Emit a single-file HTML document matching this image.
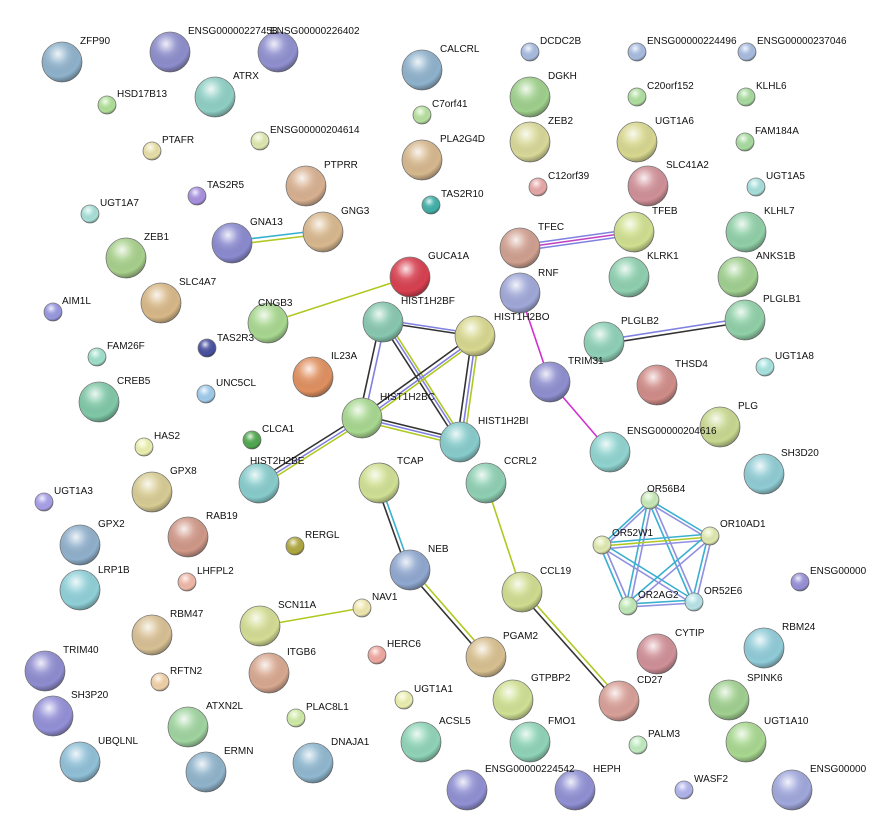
<!DOCTYPE html>
<html><head><meta charset="utf-8"><style>
html,body{margin:0;padding:0;background:#fff;}
svg{display:block;}
text{font-family:"Liberation Sans",sans-serif;font-size:10px;fill:#111;}
.s{stroke:#777;stroke-width:0.8;}
</style></head><body>
<svg width="871" height="835" viewBox="0 0 871 835" xmlns="http://www.w3.org/2000/svg">
<defs>
<radialGradient id="g" cx="40%" cy="30%" r="70%">
<stop offset="0" stop-color="#fff" stop-opacity="0.85"/>
<stop offset="0.35" stop-color="#fff" stop-opacity="0.15"/>
<stop offset="0.8" stop-color="#000" stop-opacity="0"/>
<stop offset="1" stop-color="#000" stop-opacity="0.3"/>
</radialGradient>
</defs>
<g fill="none" stroke-width="1.6">
<line x1="232" y1="241" x2="323" y2="230" stroke="#3ab0d0"/><line x1="232" y1="245" x2="323" y2="234" stroke="#b0c820"/>
<line x1="268" y1="323" x2="410" y2="277" stroke="#b0c820"/>
<line x1="520" y1="245" x2="634" y2="229" stroke="#8080e0"/><line x1="520" y1="248" x2="634" y2="232" stroke="#c040c0"/><line x1="520" y1="251" x2="634" y2="235" stroke="#8080e0"/>
<line x1="520" y1="293" x2="550" y2="382" stroke="#d030d0"/>
<line x1="550" y1="382" x2="610" y2="452" stroke="#d030d0"/>
<line x1="604" y1="340" x2="745" y2="318" stroke="#8080e0"/><line x1="604" y1="344" x2="745" y2="322" stroke="#333"/>
<g>
<line x1="381" y1="322" x2="473" y2="336" stroke="#333"/><line x1="385" y1="320" x2="477" y2="334" stroke="#8080e0"/>
<line x1="380" y1="322" x2="359" y2="418" stroke="#333"/><line x1="385" y1="323" x2="364" y2="419" stroke="#8080e0"/>
<line x1="381" y1="322" x2="458" y2="442" stroke="#333"/><line x1="385" y1="322" x2="462" y2="442" stroke="#8080e0"/><line x1="388" y1="322" x2="465" y2="442" stroke="#b0c820"/>
<line x1="472" y1="336" x2="359" y2="418" stroke="#333"/><line x1="476" y1="338" x2="363" y2="420" stroke="#8080e0"/><line x1="479" y1="339" x2="366" y2="421" stroke="#b0c820"/>
<line x1="472" y1="336" x2="457" y2="442" stroke="#333"/><line x1="476" y1="336" x2="461" y2="442" stroke="#8080e0"/><line x1="479" y1="337" x2="464" y2="443" stroke="#b0c820"/>
<line x1="362" y1="415" x2="460" y2="439" stroke="#333"/><line x1="362" y1="418" x2="460" y2="442" stroke="#8080e0"/><line x1="362" y1="421" x2="460" y2="445" stroke="#b0c820"/>
<line x1="360" y1="416" x2="257" y2="481" stroke="#333"/><line x1="362" y1="419" x2="259" y2="484" stroke="#8080e0"/><line x1="364" y1="421" x2="261" y2="486" stroke="#b0c820"/>
</g>
<line x1="376" y1="483" x2="407" y2="570" stroke="#333"/><line x1="380" y1="483" x2="411" y2="570" stroke="#3ab0d0"/>
<line x1="408" y1="571" x2="484" y2="658" stroke="#333"/><line x1="412" y1="569" x2="488" y2="656" stroke="#b0c820"/>
<line x1="260" y1="626" x2="362" y2="608" stroke="#b0c820"/>
<line x1="486" y1="483" x2="522" y2="592" stroke="#b0c820"/>
<line x1="520" y1="593" x2="617" y2="702" stroke="#333"/><line x1="524" y1="591" x2="621" y2="700" stroke="#b0c820"/>
<g>
<line x1="650" y1="500" x2="602" y2="545" stroke="#3ab0d0"/><line x1="652" y1="502" x2="604" y2="547" stroke="#9090e0"/>
<line x1="650" y1="500" x2="710" y2="536" stroke="#3ab0d0"/><line x1="649" y1="503" x2="709" y2="539" stroke="#9090e0"/>
<line x1="648" y1="500" x2="626" y2="606" stroke="#3ab0d0"/><line x1="652" y1="500" x2="630" y2="606" stroke="#9090e0"/>
<line x1="648" y1="500" x2="692" y2="602" stroke="#3ab0d0"/><line x1="652" y1="500" x2="696" y2="602" stroke="#9090e0"/>
<line x1="602" y1="543" x2="710" y2="534" stroke="#3ab0d0"/><line x1="602" y1="546" x2="710" y2="537" stroke="#b0c820"/><line x1="602" y1="549" x2="710" y2="540" stroke="#9090e0"/>
<line x1="600" y1="546" x2="626" y2="607" stroke="#3ab0d0"/><line x1="604" y1="545" x2="630" y2="606" stroke="#9090e0"/>
<line x1="602" y1="543" x2="694" y2="600" stroke="#3ab0d0"/><line x1="601" y1="547" x2="693" y2="604" stroke="#9090e0"/>
<line x1="708" y1="534" x2="626" y2="604" stroke="#3ab0d0"/><line x1="711" y1="538" x2="629" y2="608" stroke="#9090e0"/>
<line x1="708" y1="536" x2="692" y2="602" stroke="#3ab0d0"/><line x1="712" y1="536" x2="696" y2="602" stroke="#9090e0"/>
<line x1="628" y1="604" x2="694" y2="600" stroke="#3ab0d0"/><line x1="628" y1="607" x2="694" y2="603" stroke="#9090e0"/>
</g>
</g>
<g>
<g class="s">
<circle cx="62" cy="62" r="20" fill="#8fb2cc"/><circle cx="170" cy="52" r="20" fill="#8d8dcc"/><circle cx="278" cy="52" r="20" fill="#9090d0"/><circle cx="422" cy="70" r="20" fill="#8fb2cc"/>
<circle cx="215" cy="97" r="20" fill="#8fcfc4"/><circle cx="530" cy="97" r="20" fill="#9fd08c"/>
<circle cx="422" cy="160" r="20" fill="#d6b88e"/><circle cx="530" cy="142" r="20" fill="#d8d898"/><circle cx="637" cy="142" r="20" fill="#d8d890"/>
<circle cx="306" cy="186" r="20" fill="#d8b090"/><circle cx="648" cy="186" r="20" fill="#d09098"/>
<circle cx="232" cy="243" r="20" fill="#8a8ad0"/><circle cx="323" cy="232" r="20" fill="#d8b88e"/><circle cx="520" cy="248" r="20" fill="#d0a090"/><circle cx="634" cy="232" r="20" fill="#d0e090"/><circle cx="746" cy="232" r="20" fill="#90d0a8"/>
<circle cx="126" cy="258" r="20" fill="#a8d08c"/><circle cx="410" cy="277" r="20" fill="#d84050"/><circle cx="629" cy="277" r="20" fill="#8fd0b0"/><circle cx="738" cy="277" r="20" fill="#a0d090"/>
<circle cx="161" cy="303" r="20" fill="#d8b888"/><circle cx="268" cy="323" r="20" fill="#a8d890"/><circle cx="520" cy="293" r="20" fill="#a0a8d8"/>
<circle cx="383" cy="322" r="20" fill="#88c8b0"/><circle cx="475" cy="336" r="20" fill="#d8d890"/><circle cx="745" cy="320" r="20" fill="#90d0a8"/><circle cx="604" cy="342" r="20" fill="#8fd0b8"/>
<circle cx="313" cy="377" r="20" fill="#e09060"/><circle cx="550" cy="382" r="20" fill="#8f8fd0"/><circle cx="657" cy="385" r="20" fill="#d08c88"/><circle cx="99" cy="402" r="20" fill="#80c8a8"/>
<circle cx="362" cy="418" r="20" fill="#a8d890"/><circle cx="460" cy="442" r="20" fill="#88cccc"/><circle cx="720" cy="427" r="20" fill="#c8d890"/><circle cx="610" cy="452" r="20" fill="#90d4d0"/>
<circle cx="764" cy="474" r="20" fill="#90ccd4"/><circle cx="259" cy="483" r="20" fill="#88cccc"/><circle cx="379" cy="483" r="20" fill="#d0e094"/><circle cx="486" cy="483" r="20" fill="#8fd0b4"/><circle cx="152" cy="492" r="20" fill="#d8cc94"/>
<circle cx="188" cy="537" r="20" fill="#d09888"/><circle cx="80" cy="545" r="20" fill="#90b0cc"/><circle cx="410" cy="570" r="20" fill="#90a8d0"/><circle cx="522" cy="592" r="20" fill="#d0dc90"/><circle cx="80" cy="590" r="20" fill="#90d0d8"/>
<circle cx="152" cy="635" r="20" fill="#d8c094"/><circle cx="260" cy="626" r="20" fill="#d4dc94"/><circle cx="764" cy="648" r="20" fill="#90ccd8"/><circle cx="657" cy="654" r="20" fill="#d09098"/><circle cx="486" cy="657" r="20" fill="#d8c090"/>
<circle cx="45" cy="671" r="20" fill="#8f8cd0"/><circle cx="269" cy="673" r="20" fill="#d8a890"/><circle cx="619" cy="701" r="20" fill="#d8a098"/><circle cx="513" cy="700" r="20" fill="#d0e094"/><circle cx="729" cy="700" r="20" fill="#a0d090"/>
<circle cx="53" cy="716" r="20" fill="#9490d8"/><circle cx="188" cy="727" r="20" fill="#a0d4a0"/><circle cx="421" cy="742" r="20" fill="#90d4b8"/><circle cx="530" cy="742" r="20" fill="#8fd4b8"/><circle cx="746" cy="742" r="20" fill="#a8d890"/>
<circle cx="80" cy="762" r="20" fill="#90c0d8"/><circle cx="206" cy="772" r="20" fill="#90b4cc"/><circle cx="313" cy="763" r="20" fill="#90b8d0"/><circle cx="467" cy="790" r="20" fill="#9090d4"/><circle cx="575" cy="790" r="20" fill="#9090d4"/><circle cx="792" cy="790" r="20" fill="#a0a8dc"/>
<circle cx="530" cy="52" r="9" fill="#a8bce0"/><circle cx="637" cy="52" r="9" fill="#a8bce0"/><circle cx="747" cy="52" r="9" fill="#a8bce0"/>
<circle cx="107" cy="105" r="9" fill="#b0e098"/><circle cx="422" cy="115" r="9" fill="#b8e0a0"/><circle cx="637" cy="97" r="9" fill="#b0e0a0"/><circle cx="746" cy="97" r="9" fill="#a8dca0"/>
<circle cx="152" cy="151" r="9" fill="#e8e0a8"/><circle cx="260" cy="141" r="9" fill="#e0e8b0"/><circle cx="745" cy="142" r="9" fill="#a8dca0"/>
<circle cx="197" cy="196" r="9" fill="#a890e0"/><circle cx="538" cy="187" r="9" fill="#e8a8a8"/><circle cx="756" cy="187" r="9" fill="#a8e0dc"/><circle cx="90" cy="214" r="9" fill="#a8e0d8"/><circle cx="431" cy="205" r="9" fill="#40b0a8"/>
<circle cx="53" cy="312" r="9" fill="#9898e0"/><circle cx="97" cy="357" r="9" fill="#a0e0cc"/><circle cx="207" cy="348" r="9" fill="#4850a0"/><circle cx="765" cy="367" r="9" fill="#a8e4e0"/>
<circle cx="206" cy="394" r="9" fill="#a0ccec"/><circle cx="252" cy="440" r="9" fill="#50a850"/><circle cx="144" cy="447" r="9" fill="#ecf0b0"/>
<circle cx="650" cy="500" r="9" fill="#c8eab8"/><circle cx="44" cy="502" r="9" fill="#a8a0e8"/><circle cx="602" cy="545" r="9" fill="#e0eab0"/><circle cx="710" cy="536" r="9" fill="#e0eab0"/>
<circle cx="295" cy="546" r="9" fill="#b0a840"/><circle cx="628" cy="606" r="9" fill="#c0eab8"/><circle cx="694" cy="602" r="9" fill="#b8e4e8"/><circle cx="187" cy="582" r="9" fill="#f0b8a8"/><circle cx="362" cy="608" r="9" fill="#f0e8b0"/><circle cx="800" cy="582" r="9" fill="#9890d8"/>
<circle cx="377" cy="655" r="9" fill="#f0a8a0"/><circle cx="160" cy="682" r="9" fill="#f0d0a8"/><circle cx="404" cy="700" r="9" fill="#ecf0b0"/><circle cx="296" cy="718" r="9" fill="#d0eca8"/><circle cx="638" cy="745" r="9" fill="#c0ecc0"/><circle cx="684" cy="790" r="9" fill="#b0b4ec"/>
</g>
<g fill="url(#g)">
<circle cx="62" cy="62" r="20"/><circle cx="170" cy="52" r="20"/><circle cx="278" cy="52" r="20"/><circle cx="422" cy="70" r="20"/><circle cx="215" cy="97" r="20"/><circle cx="530" cy="97" r="20"/><circle cx="422" cy="160" r="20"/><circle cx="530" cy="142" r="20"/><circle cx="637" cy="142" r="20"/><circle cx="306" cy="186" r="20"/><circle cx="648" cy="186" r="20"/><circle cx="232" cy="243" r="20"/><circle cx="323" cy="232" r="20"/><circle cx="520" cy="248" r="20"/><circle cx="634" cy="232" r="20"/><circle cx="746" cy="232" r="20"/><circle cx="126" cy="258" r="20"/><circle cx="410" cy="277" r="20"/><circle cx="629" cy="277" r="20"/><circle cx="738" cy="277" r="20"/><circle cx="161" cy="303" r="20"/><circle cx="268" cy="323" r="20"/><circle cx="520" cy="293" r="20"/><circle cx="383" cy="322" r="20"/><circle cx="475" cy="336" r="20"/><circle cx="745" cy="320" r="20"/><circle cx="604" cy="342" r="20"/><circle cx="313" cy="377" r="20"/><circle cx="550" cy="382" r="20"/><circle cx="657" cy="385" r="20"/><circle cx="99" cy="402" r="20"/><circle cx="362" cy="418" r="20"/><circle cx="460" cy="442" r="20"/><circle cx="720" cy="427" r="20"/><circle cx="610" cy="452" r="20"/><circle cx="764" cy="474" r="20"/><circle cx="259" cy="483" r="20"/><circle cx="379" cy="483" r="20"/><circle cx="486" cy="483" r="20"/><circle cx="152" cy="492" r="20"/><circle cx="188" cy="537" r="20"/><circle cx="80" cy="545" r="20"/><circle cx="410" cy="570" r="20"/><circle cx="522" cy="592" r="20"/><circle cx="80" cy="590" r="20"/><circle cx="152" cy="635" r="20"/><circle cx="260" cy="626" r="20"/><circle cx="764" cy="648" r="20"/><circle cx="657" cy="654" r="20"/><circle cx="486" cy="657" r="20"/><circle cx="45" cy="671" r="20"/><circle cx="269" cy="673" r="20"/><circle cx="619" cy="701" r="20"/><circle cx="513" cy="700" r="20"/><circle cx="729" cy="700" r="20"/><circle cx="53" cy="716" r="20"/><circle cx="188" cy="727" r="20"/><circle cx="421" cy="742" r="20"/><circle cx="530" cy="742" r="20"/><circle cx="746" cy="742" r="20"/><circle cx="80" cy="762" r="20"/><circle cx="206" cy="772" r="20"/><circle cx="313" cy="763" r="20"/><circle cx="467" cy="790" r="20"/><circle cx="575" cy="790" r="20"/><circle cx="792" cy="790" r="20"/>
<circle cx="530" cy="52" r="9"/><circle cx="637" cy="52" r="9"/><circle cx="747" cy="52" r="9"/><circle cx="107" cy="105" r="9"/><circle cx="422" cy="115" r="9"/><circle cx="637" cy="97" r="9"/><circle cx="746" cy="97" r="9"/><circle cx="152" cy="151" r="9"/><circle cx="260" cy="141" r="9"/><circle cx="745" cy="142" r="9"/><circle cx="197" cy="196" r="9"/><circle cx="538" cy="187" r="9"/><circle cx="756" cy="187" r="9"/><circle cx="90" cy="214" r="9"/><circle cx="431" cy="205" r="9"/><circle cx="53" cy="312" r="9"/><circle cx="97" cy="357" r="9"/><circle cx="207" cy="348" r="9"/><circle cx="765" cy="367" r="9"/><circle cx="206" cy="394" r="9"/><circle cx="252" cy="440" r="9"/><circle cx="144" cy="447" r="9"/><circle cx="650" cy="500" r="9"/><circle cx="44" cy="502" r="9"/><circle cx="602" cy="545" r="9"/><circle cx="710" cy="536" r="9"/><circle cx="295" cy="546" r="9"/><circle cx="628" cy="606" r="9"/><circle cx="694" cy="602" r="9"/><circle cx="187" cy="582" r="9"/><circle cx="362" cy="608" r="9"/><circle cx="800" cy="582" r="9"/><circle cx="377" cy="655" r="9"/><circle cx="160" cy="682" r="9"/><circle cx="404" cy="700" r="9"/><circle cx="296" cy="718" r="9"/><circle cx="638" cy="745" r="9"/><circle cx="684" cy="790" r="9"/>
</g>
</g>
<g>
<text x="80" y="44">ZFP90</text><text x="188" y="34">ENSG00000227458</text><text x="270" y="34">ENSG00000226402</text><text x="440" y="52">CALCRL</text>
<text x="540" y="44">DCDC2B</text><text x="647" y="44">ENSG00000224496</text><text x="757" y="44">ENSG00000237046</text>
<text x="233" y="79">ATRX</text><text x="117" y="97">HSD17B13</text><text x="432" y="107">C7orf41</text><text x="548" y="79">DGKH</text><text x="647" y="89">C20orf152</text><text x="756" y="89">KLHL6</text>
<text x="162" y="143">PTAFR</text><text x="270" y="133">ENSG00000204614</text><text x="440" y="142">PLA2G4D</text><text x="548" y="124">ZEB2</text><text x="655" y="124">UGT1A6</text><text x="755" y="134">FAM184A</text>
<text x="207" y="188">TAS2R5</text><text x="324" y="168">PTPRR</text><text x="548" y="179">C12orf39</text><text x="666" y="168">SLC41A2</text><text x="766" y="179">UGT1A5</text>
<text x="100" y="206">UGT1A7</text><text x="250" y="225">GNA13</text><text x="341" y="214">GNG3</text><text x="441" y="197">TAS2R10</text><text x="538" y="230">TFEC</text><text x="652" y="214">TFEB</text><text x="764" y="214">KLHL7</text>
<text x="144" y="240">ZEB1</text><text x="428" y="259">GUCA1A</text><text x="647" y="259">KLRK1</text><text x="756" y="259">ANKS1B</text>
<text x="179" y="285">SLC4A7</text><text x="258" y="306">CNGB3</text><text x="538" y="276">RNF</text><text x="494" y="320">HIST1H2BO</text>
<text x="62" y="304">AIM1L</text><text x="401" y="304">HIST1H2BF</text><text x="763" y="302">PLGLB1</text><text x="621" y="324">PLGLB2</text>
<text x="107" y="349">FAM26F</text><text x="217" y="341">TAS2R3</text><text x="331" y="359">IL23A</text><text x="568" y="364">TRIM31</text><text x="675" y="367">THSD4</text><text x="775" y="359">UGT1A8</text>
<text x="216" y="386">UNC5CL</text><text x="117" y="384">CREB5</text><text x="380" y="400">HIST1H2BC</text><text x="478" y="424">HIST1H2BI</text><text x="738" y="409">PLG</text><text x="627" y="434">ENSG00000204616</text>
<text x="262" y="432">CLCA1</text><text x="154" y="439">HAS2</text><text x="781" y="456">SH3D20</text><text x="250" y="464">HIST2H2BE</text><text x="397" y="464">TCAP</text><text x="504" y="464">CCRL2</text><text x="170" y="474">GPX8</text>
<text x="647" y="492">OR56B4</text><text x="54" y="494">UGT1A3</text><text x="612" y="536">OR52W1</text><text x="720" y="527">OR10AD1</text>
<text x="206" y="519">RAB19</text><text x="98" y="527">GPX2</text><text x="305" y="538">RERGL</text><text x="428" y="552">NEB</text>
<text x="638" y="598">OR2AG2</text><text x="704" y="594">OR52E6</text><text x="540" y="574">CCL19</text><text x="98" y="573">LRP1B</text><text x="197" y="574">LHFPL2</text><text x="372" y="600">NAV1</text><text x="810" y="574">ENSG00000</text>
<text x="170" y="617">RBM47</text><text x="278" y="608">SCN11A</text><text x="387" y="647">HERC6</text><text x="782" y="630">RBM24</text><text x="675" y="636">CYTIP</text><text x="503" y="639">PGAM2</text>
<text x="63" y="653">TRIM40</text><text x="287" y="655">ITGB6</text><text x="170" y="674">RFTN2</text><text x="637" y="683">CD27</text><text x="531" y="681">GTPBP2</text><text x="747" y="681">SPINK6</text><text x="414" y="692">UGT1A1</text>
<text x="71" y="698">SH3P20</text><text x="206" y="709">ATXN2L</text><text x="306" y="710">PLAC8L1</text><text x="439" y="724">ACSL5</text><text x="548" y="724">FMO1</text><text x="648" y="737">PALM3</text><text x="764" y="724">UGT1A10</text>
<text x="98" y="744">UBQLNL</text><text x="224" y="754">ERMN</text><text x="331" y="745">DNAJA1</text><text x="485" y="772">ENSG00000224542</text><text x="593" y="772">HEPH</text><text x="694" y="782">WASF2</text><text x="810" y="772">ENSG00000</text>
</g>
</svg>
</body></html>
